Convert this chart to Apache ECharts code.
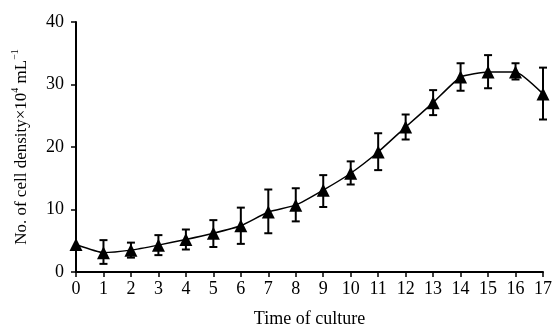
<!DOCTYPE html>
<html><head><meta charset="utf-8">
<script src="https://cdn.jsdelivr.net/npm/echarts@6/dist/echarts.min.js"></script>
<style>html,body{margin:0;padding:0;background:#fff}#c{width:552px;height:329px}</style>
</head><body><div id="c"></div>
<script>
const days = [0,1,2,3,4,5,6,7,8,9,10,11,12,13,14,15,16,17];
const density = [4.4,3.1,3.5,4.3,5.2,6.2,7.4,9.6,10.7,13.1,15.8,19.2,23.2,27.1,31.2,32.0,32.0,28.5];
const errLow = [4.4,1.3,2.3,2.7,3.6,4.0,4.5,6.2,8.1,10.4,14.0,16.3,21.2,25.1,29.0,29.4,30.8,24.4];
const errHigh = [4.4,5.1,4.7,5.9,6.8,8.3,10.3,13.2,13.4,15.5,17.7,22.2,25.2,29.1,33.4,34.7,33.4,32.7];
const yTicks = [0,10,20,30,40];

const font = 'Liberation Serif';
const chart = echarts.init(document.getElementById('c'));
const lineData = days.map((d,i)=>[d,density[i]]);
const errData = days.map((d,i)=>[d,errLow[i],errHigh[i]]);
chart.setOption({
  animation:false,
  grid:{left:76,right:9,top:22,bottom:57,outerBoundsMode:'none',containLabel:false},
  xAxis:{type:'value',min:0,max:17,interval:1,
    name:'Time of culture',nameLocation:'middle',nameGap:38,
    nameTextStyle:{fontFamily:font,fontSize:18,color:'#000'},
    axisLine:{lineStyle:{color:'#000',width:2}},
    axisTick:{lineStyle:{color:'#000',width:1.5},length:5},
    axisLabel:{fontFamily:font,fontSize:18,color:'#000',margin:8},
    splitLine:{show:false}},
  yAxis:{type:'value',min:0,max:40,interval:10,
    name:'{a|No. of cell density\u00d710}{s|4}{a| mL}{s|\u22121}',nameLocation:'middle',nameGap:46,
    nameTextStyle:{fontFamily:font,fontSize:17,color:'#000',
      rich:{a:{fontFamily:font,fontSize:17,color:'#000',verticalAlign:'bottom',lineHeight:20},
            s:{fontFamily:font,fontSize:10,color:'#000',verticalAlign:'top',lineHeight:20}}},
    axisLine:{show:true,lineStyle:{color:'#000',width:2}},
    axisTick:{show:true,lineStyle:{color:'#000',width:1.5},length:5},
    axisLabel:{fontFamily:font,fontSize:18,color:'#000',margin:12,
      formatter:v=>yTicks.includes(v)?String(v):''},
    splitLine:{show:false}},
  series:[
    {type:'custom',data:errData,z:3,
      renderItem:function(params,api){
        const x=api.value(0);
        const lo=api.coord([x,api.value(1)]);
        const hi=api.coord([x,api.value(2)]);
        const w=4;
        const st={stroke:'#000',lineWidth:2,fill:null};
        if(Math.abs(hi[1]-lo[1])<1) return {type:'group',children:[]};
        return {type:'group',children:[
          {type:'line',shape:{x1:lo[0],y1:lo[1],x2:hi[0],y2:hi[1]},style:st},
          {type:'line',shape:{x1:lo[0]-w,y1:lo[1],x2:lo[0]+w,y2:lo[1]},style:st},
          {type:'line',shape:{x1:hi[0]-w,y1:hi[1],x2:hi[0]+w,y2:hi[1]},style:st}
        ]};
      }},
    {type:'line',data:lineData,smooth:0.15,z:4,
      symbol:'triangle',symbolSize:13,
      itemStyle:{color:'#000'},
      lineStyle:{color:'#000',width:1.5}}
  ]
});
</script></body></html>
